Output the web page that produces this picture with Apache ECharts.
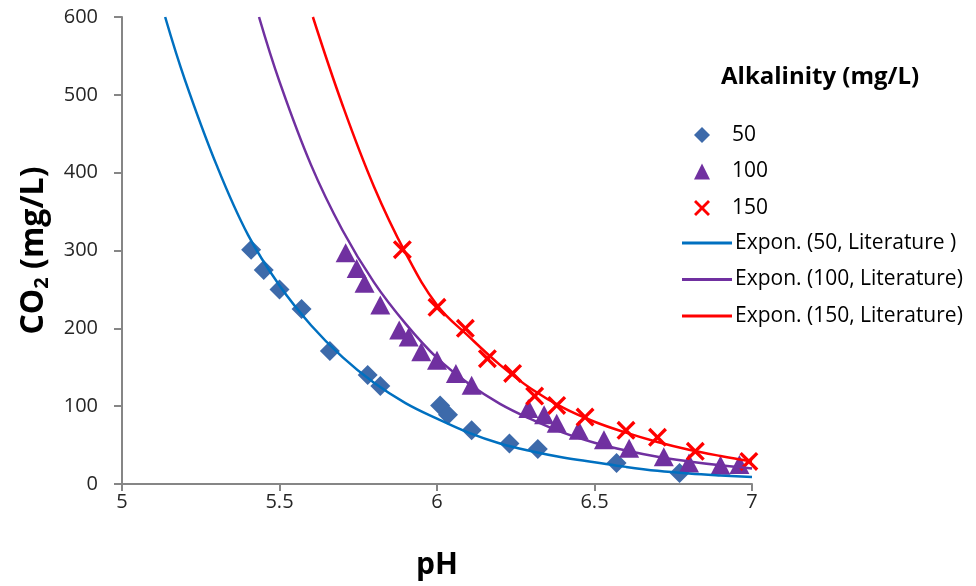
<!DOCTYPE html>
<html>
<head>
<meta charset="utf-8">
<script src="https://cdn.jsdelivr.net/npm/echarts@6/dist/echarts.min.js"></script>
<style>html,body{margin:0;padding:0;background:#fff;}#c{width:976px;height:586px;}</style>
</head>
<body>
<div id="c"></div>
<script>
// Measured data (pH, CO2 mg/L)
const alk50 = [[5.41,301],[5.45,275],[5.50,250],[5.57,225],[5.66,171],[5.78,140],[5.82,126],[6.01,101],[6.035,89],[6.11,69],[6.23,52],[6.32,45],[6.57,27],[6.77,14]];
const alk100 = [[5.71,297],[5.745,277],[5.77,258],[5.82,230],[5.88,198],[5.91,189],[5.95,170],[6.00,159],[6.06,142],[6.11,127],[6.29,97],[6.34,89],[6.38,78],[6.45,69],[6.53,57],[6.61,46],[6.72,35],[6.80,27],[6.90,24],[6.96,25]];
const alk150 = [[5.89,301],[6.00,227],[6.09,200],[6.16,161],[6.24,142],[6.31,113],[6.38,101],[6.47,86],[6.60,69],[6.70,60],[6.82,42],[6.99,29]];
// Trend curves
const lit50 = [[5.137,600],[5.2,519],[5.3,410],[5.4,320],[5.5,255],[5.6,204],[5.7,163],[5.8,130],[5.9,104],[6.0,84],[6.1,66],[6.2,52],[6.3,42],[6.4,34],[6.5,28],[6.6,22],[6.7,17],[6.8,13.5],[6.9,11],[7.0,9]];
const lit100 = [[5.435,600],[5.5,517],[5.6,410],[5.7,326],[5.8,259],[5.9,206],[6.0,162],[6.1,129],[6.2,103],[6.3,83],[6.4,66],[6.5,53],[6.6,43],[6.7,35],[6.8,29],[6.9,24],[7.0,20]];
const lit150 = [[5.606,600],[5.7,487],[5.8,382],[5.9,297],[6.0,230],[6.1,190],[6.2,153],[6.3,122],[6.4,98],[6.5,80],[6.6,66],[6.7,54],[6.8,44],[6.9,36],[7.0,29]];
const seriesNames = ['50','100','150','Expon. (50, Literature )','Expon. (100, Literature)','Expon. (150, Literature)'];
const legendTitle = 'Alkalinity (mg/L)';
const xTitle = 'pH';

const FONT = '"Open Sans", sans-serif';
const crossPath = 'path://M0,2.5 L2.5,0 L10,7.5 L17.5,0 L20,2.5 L12.5,10 L20,17.5 L17.5,20 L10,12.5 L2.5,20 L0,17.5 L7.5,10 Z';

const chart = echarts.init(document.getElementById('c'), null, {renderer:'canvas'});
chart.setOption({
  backgroundColor:'#fff',
  animation:false,
  title:{text:legendTitle,left:716,top:60,textStyle:{fontFamily:FONT,fontWeight:'bold',fontSize:24,color:'#000'}},
  grid:{left:122,right:224,top:17,bottom:102,containLabel:false,outerBoundsMode:'none'},
  legend:[{
    data:seriesNames.slice(0,3),orient:'vertical',left:689,top:118,itemWidth:16,itemHeight:16,itemGap:12.5,
    textStyle:{fontFamily:FONT,fontSize:21,color:'#000',lineHeight:24,padding:[0,0,0,17]}
  },{
    data:seriesNames.slice(3),orient:'vertical',left:677,top:226,itemWidth:50,itemHeight:3,itemGap:12.5,icon:'rect',
    textStyle:{fontFamily:FONT,fontSize:21,color:'#000',lineHeight:24,padding:[0,0,0,-2]}
  }],
  xAxis:{type:'value',min:5,max:7,interval:0.5,
    name:xTitle,nameLocation:'middle',nameGap:66,
    nameTextStyle:{fontFamily:FONT,fontWeight:'bold',fontSize:30,color:'#000'},
    axisLine:{lineStyle:{color:'#868686',width:2}},
    axisTick:{show:true,length:7,lineStyle:{color:'#868686',width:2}},
    axisLabel:{fontFamily:FONT,fontSize:20,color:'#262626',margin:8},
    splitLine:{show:false}},
  yAxis:{type:'value',min:0,max:600,interval:100,
    name:'{a|CO}{s|2}{a| (mg/L)}',nameLocation:'middle',nameGap:70,nameRotate:90,
    nameTextStyle:{rich:{a:{fontFamily:FONT,fontWeight:'bold',fontSize:32,color:'#000'},s:{fontFamily:FONT,fontWeight:'bold',fontSize:20,color:'#000',verticalAlign:'bottom',padding:[16,0,0,0]}}},
    axisLine:{show:true,lineStyle:{color:'#868686',width:2}},
    axisTick:{show:true,length:8,lineStyle:{color:'#868686',width:2}},
    axisLabel:{fontFamily:FONT,fontSize:20,color:'#262626',margin:24},
    splitLine:{show:false}},
  series:[
    {name:seriesNames[0],type:'scatter',data:alk50,symbol:'diamond',symbolSize:20,itemStyle:{color:'#3D6AAA',opacity:1}},
    {name:seriesNames[1],type:'scatter',data:alk100,symbol:'triangle',symbolSize:[20,19],itemStyle:{color:'#7030A0',opacity:1}},
    {name:seriesNames[2],type:'scatter',data:alk150,symbol:crossPath,symbolSize:19,itemStyle:{color:'#FF0000',opacity:1}},
    {name:seriesNames[3],type:'line',data:lit50,symbol:'none',smooth:0.4,lineStyle:{color:'#0070C0',width:2.5},itemStyle:{color:'#0070C0'}},
    {name:seriesNames[4],type:'line',data:lit100,symbol:'none',smooth:0.4,lineStyle:{color:'#7030A0',width:2.5},itemStyle:{color:'#7030A0'}},
    {name:seriesNames[5],type:'line',data:lit150,symbol:'none',smooth:0.4,lineStyle:{color:'#FF0000',width:2.5},itemStyle:{color:'#FF0000'}}
  ]
});
</script>
</body>
</html>
